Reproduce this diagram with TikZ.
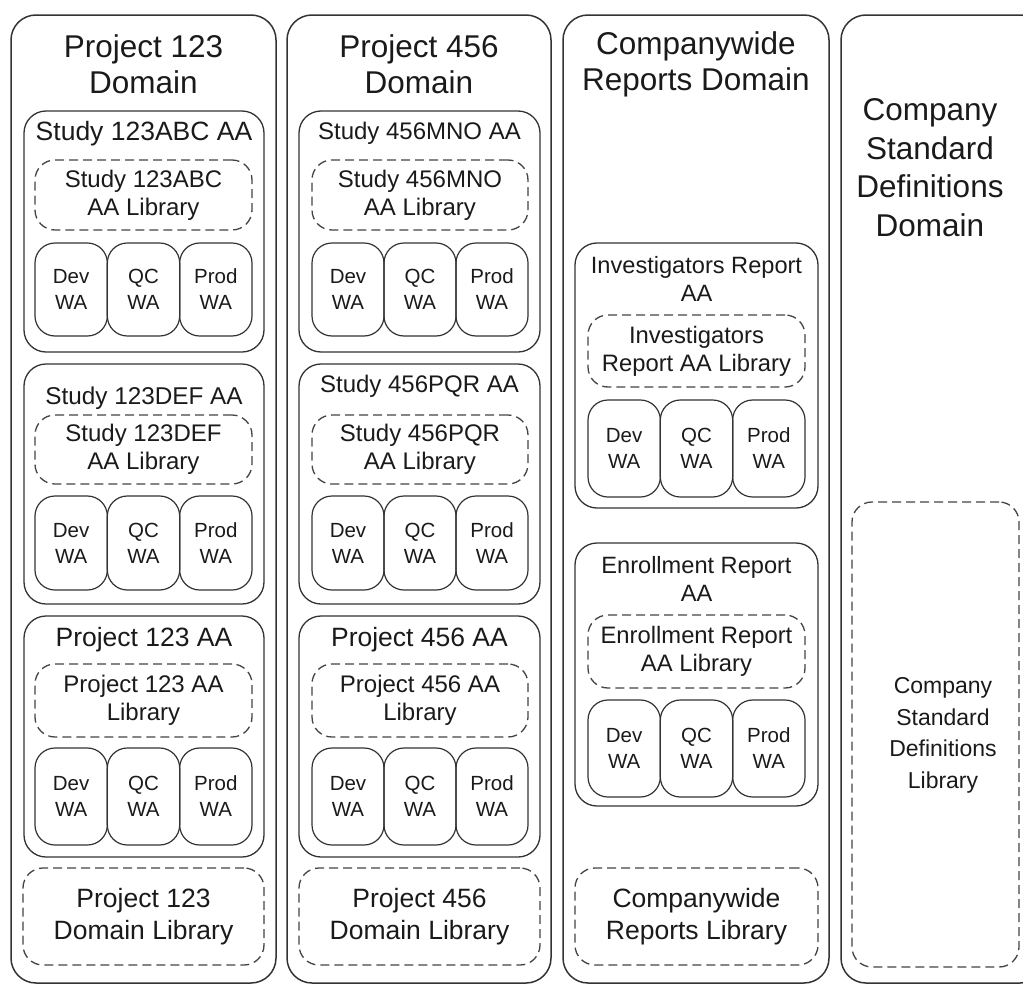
\documentclass[tikz,border=0pt]{standalone}
\usepackage{fontspec}
\setmainfont{Liberation Sans}
\definecolor{lc}{HTML}{333333}
\definecolor{dc}{HTML}{444444}
\definecolor{tc}{HTML}{1A1A1A}
\tikzset{
  colbox/.style={draw=lc, line width=1.5pt, rounded corners=25pt},
  aabox/.style={draw=lc, line width=1.3pt, rounded corners=22pt},
  libbox/.style={draw=dc, line width=1.3pt, dash pattern=on 9pt off 5pt, rounded corners=20pt, text=tc, align=center},
  wabox/.style={draw=lc, line width=1.2pt, rounded corners=20pt, text=tc, align=center, font=\fontsize{20.5}{26}\selectfont},
  txt/.style={text=tc, align=center, inner sep=0pt},
}
\newcommand\bx[7]{\node[#6, inner sep=0pt, outer sep=0pt, minimum width={(#4-#2)*1pt}, minimum height={(#5-#3)*1pt}] (#1) at ({(#2+#4)/2},{(#3+#5)/2}) {#7};}
\newcommand\tx[6]{\node[txt, font=\fontsize{#4}{#5}\selectfont] (#1) at (#2,#3) {#6};}
\newcommand\watrio[5]{%
  \pgfmathsetmacro\wxw{(#3-#2)/3}%
  \pgfmathsetmacro\wxa{#2+\wxw}%
  \pgfmathsetmacro\wxb{#2+2*\wxw}%
  \bx{#1d}{#2}{#4}{\wxa}{#5}{wabox}{Dev\\WA}
  \bx{#1q}{\wxa}{#4}{\wxb}{#5}{wabox}{QC\\WA}
  \bx{#1p}{\wxb}{#4}{#3}{#5}{wabox}{Prod\\WA}
}
\begin{document}
\begin{tikzpicture}[x=1pt,y=-1pt]
\useasboundingbox (0,0) rectangle (1023,985);
\clip (0,0) rectangle (1023,985);
% ---------- Column 1 ----------
\bx{c1}{11}{15}{276}{983}{colbox}{}
\tx{c1t}{143.5}{64}{31.5}{36}{Project 123\\Domain}
\bx{a1}{24}{111}{264}{352}{aabox}{}
\tx{a1t}{144}{134}{26.5}{30}{Study 123ABC AA}
\bx{a1l}{35}{160}{252}{230}{libbox,font=\fontsize{24}{28}\selectfont}{Study 123ABC\\AA Library}
\watrio{a1w}{35}{252}{243}{336}
\bx{a2}{24}{364}{264}{604}{aabox}{}
\tx{a2t}{144}{398}{24.3}{28}{Study 123DEF AA}
\bx{a2l}{35}{415}{252}{484}{libbox,font=\fontsize{24}{28}\selectfont}{Study 123DEF\\AA Library}
\watrio{a2w}{35}{252}{496}{590}
\bx{a3}{24}{616}{264}{857}{aabox}{}
\tx{a3t}{144}{640}{26.5}{30}{Project 123 AA}
\bx{a3l}{35}{664}{252}{737}{libbox,font=\fontsize{24}{28}\selectfont}{Project 123 AA\\Library}
\watrio{a3w}{35}{252}{748}{845}
\bx{c1l}{23}{868}{264}{965}{libbox,font=\fontsize{26.5}{32}\selectfont}{Project 123\\Domain Library}
% ---------- Column 2 ----------
\bx{c2}{287}{15}{551}{983}{colbox}{}
\tx{c2t}{419}{64}{31.5}{36}{Project 456\\Domain}
\bx{b1}{299}{111}{540}{352}{aabox}{}
\tx{b1t}{419.5}{133}{24}{28}{Study 456MNO AA}
\bx{b1l}{312}{160}{528}{230}{libbox,font=\fontsize{24}{28}\selectfont}{Study 456MNO\\AA Library}
\watrio{b1w}{312}{528}{243}{336}
\bx{b2}{299}{364}{540}{604}{aabox}{}
\tx{b2t}{419.5}{386}{24}{28}{Study 456PQR AA}
\bx{b2l}{312}{415}{528}{484}{libbox,font=\fontsize{24}{28}\selectfont}{Study 456PQR\\AA Library}
\watrio{b2w}{312}{528}{496}{590}
\bx{b3}{299}{616}{540}{857}{aabox}{}
\tx{b3t}{419.5}{640}{26.5}{30}{Project 456 AA}
\bx{b3l}{312}{664}{528}{737}{libbox,font=\fontsize{24}{28}\selectfont}{Project 456 AA\\Library}
\watrio{b3w}{312}{528}{748}{845}
\bx{c2l}{299}{868}{540}{965}{libbox,font=\fontsize{26.5}{32}\selectfont}{Project 456\\Domain Library}
% ---------- Column 3 ----------
\bx{c3}{563}{15}{829}{983}{colbox}{}
\tx{c3t}{696}{64}{31.5}{36}{Companywide\\Reports Domain}
\bx{d1}{575}{243}{818}{508}{aabox}{}
\tx{d1t}{696.5}{279}{23.6}{28}{Investigators Report\\AA}
\bx{d1l}{588}{315}{805}{387}{libbox,font=\fontsize{23.8}{28}\selectfont}{Investigators\\Report AA Library}
\watrio{d1w}{588}{805}{400}{497}
\bx{d2}{575}{543}{818}{806}{aabox}{}
\tx{d2t}{696.5}{579}{23.6}{28}{Enrollment Report\\AA}
\bx{d2l}{588}{615}{805}{688}{libbox,font=\fontsize{23.8}{28}\selectfont}{Enrollment Report\\AA Library}
\watrio{d2w}{588}{805}{700}{797}
\bx{c3l}{575}{868}{818}{965}{libbox,font=\fontsize{26.5}{32}\selectfont}{Companywide\\Reports Library}
% ---------- Column 4 ----------
\bx{c4}{841}{15}{1045}{983}{colbox}{}
\tx{c4t}{930}{167.5}{31.5}{38.5}{Company\\Standard\\Definitions\\Domain}
\bx{c4l}{852}{502}{1019}{967}{libbox}{}
\tx{c4lt}{943}{735.5}{23}{31.5}{Company\\Standard\\Definitions\\Library}
\end{tikzpicture}
\end{document}
